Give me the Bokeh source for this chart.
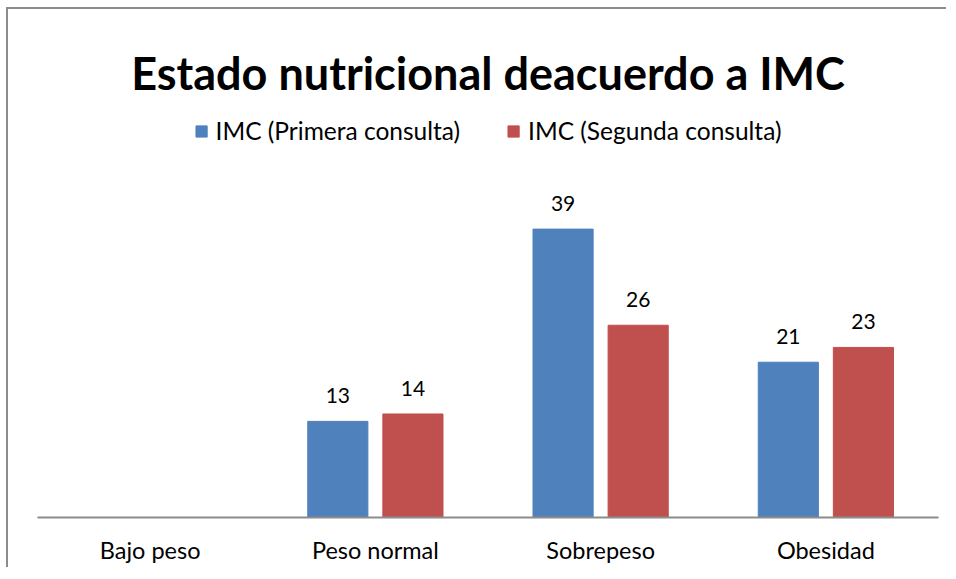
from bokeh.plotting import figure
from bokeh.models import ColumnDataSource, FactorRange, Legend, LegendItem, LabelSet, Range1d
from bokeh.transform import dodge
from bokeh.core.properties import value
from bokeh.embed import file_html
from bokeh.resources import INLINE

categories = ["Bajo peso", "Peso normal", "Sobrepeso", "Obesidad"]
primera = [None, 13, 39, 21]
segunda = [None, 14, 26, 23]
series_names = ["IMC (Primera consulta)", "IMC (Segunda consulta)"]
title_text = "Estado nutricional deacuerdo a IMC"

FONT = "Lato"
BLUE = "#4f81bd"
RED = "#c0504d"

def num(v):
    return float("nan") if v is None else v

def lab(v):
    return "" if v is None else str(v)

src = ColumnDataSource(dict(
    cat=categories,
    p1=[num(v) for v in primera],
    p2=[num(v) for v in segunda],
    l1=[lab(v) for v in primera],
    l2=[lab(v) for v in segunda],
))

p = figure(x_range=FactorRange(*categories, range_padding=0), y_range=Range1d(0, 54.5),
           width=940, height=560, output_backend="svg", toolbar_location=None,
           min_border_left=29, min_border_right=10, min_border_top=105, min_border_bottom=52)
p.styles = {"border-left": "2px solid #8c8c8c", "border-top": "2px solid #8c8c8c",
            "border-right": "0px none white", "border-bottom": "0px none white",
            "outline": "none", "box-shadow": "none",
            "margin-left": "6px", "margin-top": "7px"}
p.border_fill_color = "white"

p.title.text = title_text
p.title.text_font = FONT
p.title.text_font_size = "45px"
p.title.text_font_style = "bold"
p.title.align = "center"
p.title.text_color = "black"
p.title.standoff = 30

r1 = p.vbar(x=dodge("cat", -0.1667, range=p.x_range), top="p1", width=0.267, source=src,
            fill_color=BLUE, line_color=BLUE)
r2 = p.vbar(x=dodge("cat", 0.1667, range=p.x_range), top="p2", width=0.267, source=src,
            fill_color=RED, line_color=RED)

for col, lcol, off in (("p1", "l1", -0.1667), ("p2", "l2", 0.1667)):
    ls = LabelSet(x=dodge("cat", off, range=p.x_range), y=col, text=lcol, source=src,
                  text_align="center", text_baseline="alphabetic", y_offset=18,
                  text_font=value(FONT), text_font_size=value("21px"), text_color="black")
    p.add_layout(ls)

legend = Legend(items=[LegendItem(label=series_names[0], renderers=[r1]),
                       LegendItem(label=series_names[1], renderers=[r2])],
                orientation="horizontal", location="top_center",
                label_text_font=FONT, label_text_font_size="24.5px", label_text_color="black",
                label_standoff=8, glyph_width=14, glyph_height=14, spacing=46, margin=2,
                padding=4, border_line_color=None, background_fill_alpha=0)
p.add_layout(legend)

p.xgrid.grid_line_color = None
p.ygrid.grid_line_color = None
p.yaxis.visible = False
p.outline_line_color = None
p.xaxis.axis_line_color = "#8c8c8c"
p.xaxis.axis_line_width = 2
p.xaxis.major_tick_line_color = None
p.xaxis.minor_tick_line_color = None
p.xaxis.major_label_text_font = FONT
p.xaxis.major_label_text_font_size = "23.5px"
p.xaxis.major_label_text_color = "black"
p.xaxis.major_label_standoff = 12

open("out.html", "w").write(file_html(p, INLINE))
